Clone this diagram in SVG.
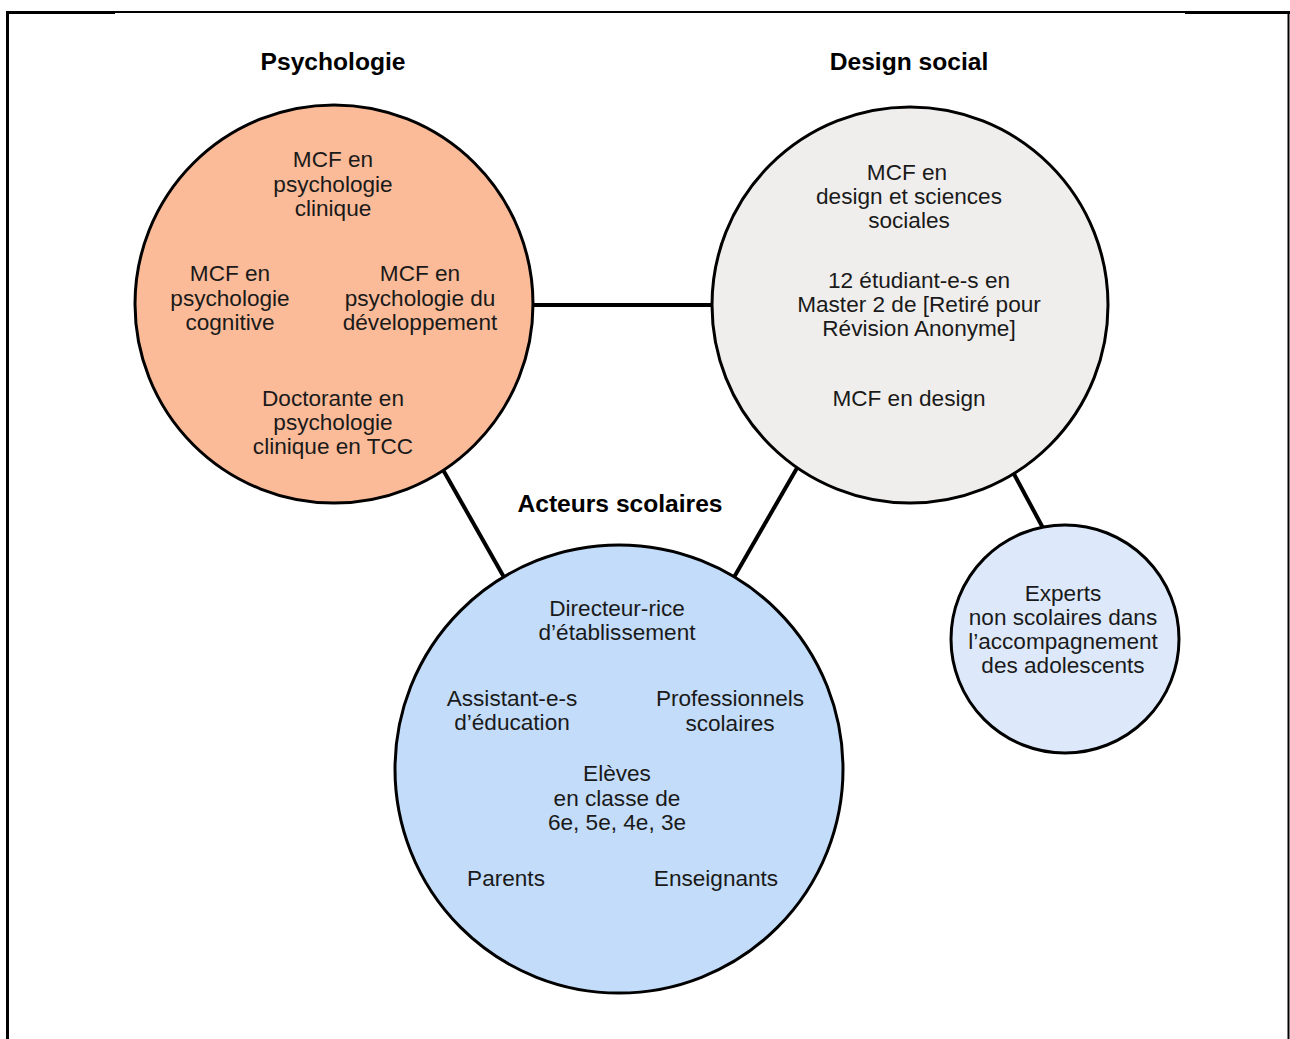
<svg xmlns="http://www.w3.org/2000/svg" width="1290" height="1039" viewBox="0 0 1290 1039">
<style>
.c{stroke:#000;stroke-width:3}
.t{font-family:"Liberation Sans",Arial,sans-serif;font-size:22.6px;fill:#1a1a1a;text-anchor:middle}
.h{font-family:"Liberation Sans",Arial,sans-serif;font-size:24.6px;font-weight:bold;fill:#000;text-anchor:middle}
.l{stroke:#000;stroke-width:4;fill:none}
</style>
<rect width="1290" height="1039" fill="#fff"/>
<g id="frame" stroke="#000" fill="none">
<line x1="7.5" y1="11" x2="7.5" y2="1039" stroke-width="3"/>
<line x1="6" y1="12.5" x2="115" y2="12.5" stroke-width="3"/>
<line x1="115" y1="12" x2="1185" y2="12" stroke-width="2"/>
<line x1="1185" y1="12.5" x2="1290" y2="12.5" stroke-width="3"/>
<line x1="1288.5" y1="11" x2="1288.5" y2="1039" stroke-width="2"/>
</g>
<g id="connectors">
<line class="l" x1="531" y1="305" x2="713" y2="305"/>
<line class="l" x1="442" y1="468" x2="505" y2="579"/>
<line class="l" x1="797" y1="468" x2="733" y2="579"/>
<line class="l" x1="1014" y1="474" x2="1043" y2="528"/>
</g>
<g id="psychologie">
<circle class="c" cx="334" cy="304" r="199" fill="#fbbb98"/>
<text class="h" x="333" y="70">Psychologie</text>
<text class="t" x="333" y="167">MCF en</text>
<text class="t" x="333" y="192">psychologie</text>
<text class="t" x="333" y="216">clinique</text>
<text class="t" x="230" y="281">MCF en</text>
<text class="t" x="230" y="306">psychologie</text>
<text class="t" x="230" y="330">cognitive</text>
<text class="t" x="420" y="281">MCF en</text>
<text class="t" x="420" y="306">psychologie du</text>
<text class="t" x="420" y="330">développement</text>
<text class="t" x="333" y="406">Doctorante en</text>
<text class="t" x="333" y="430">psychologie</text>
<text class="t" x="333" y="454">clinique en TCC</text>
</g>
<g id="design-social">
<circle class="c" cx="910" cy="305" r="198" fill="#f0eeed"/>
<text class="h" x="909" y="70">Design social</text>
<text class="t" x="907" y="180">MCF en</text>
<text class="t" x="909" y="204">design et sciences</text>
<text class="t" x="909" y="228">sociales</text>
<text class="t" x="919" y="288">12 étudiant-e-s en</text>
<text class="t" x="919" y="312">Master 2 de [Retiré pour</text>
<text class="t" x="919" y="336">Révision Anonyme]</text>
<text class="t" x="909" y="406">MCF en design</text>
</g>
<g id="acteurs-scolaires">
<circle class="c" cx="619" cy="769" r="224" fill="#c3dcf9"/>
<text class="h" x="620" y="512">Acteurs scolaires</text>
<text class="t" x="617" y="616">Directeur-rice</text>
<text class="t" x="617" y="640">d’établissement</text>
<text class="t" x="512" y="706">Assistant-e-s</text>
<text class="t" x="512" y="730">d’éducation</text>
<text class="t" x="730" y="706">Professionnels</text>
<text class="t" x="730" y="731">scolaires</text>
<text class="t" x="617" y="781">Elèves</text>
<text class="t" x="617" y="806">en classe de</text>
<text class="t" x="617" y="830">6e, 5e, 4e, 3e</text>
<text class="t" x="506" y="886">Parents</text>
<text class="t" x="716" y="886">Enseignants</text>
</g>
<g id="experts">
<circle class="c" cx="1065" cy="639" r="114" fill="#dde9fb"/>
<text class="t" x="1063" y="601">Experts</text>
<text class="t" x="1063" y="625">non scolaires dans</text>
<text class="t" x="1063" y="649">l’accompagnement</text>
<text class="t" x="1063" y="673">des adolescents</text>
</g>
</svg>
